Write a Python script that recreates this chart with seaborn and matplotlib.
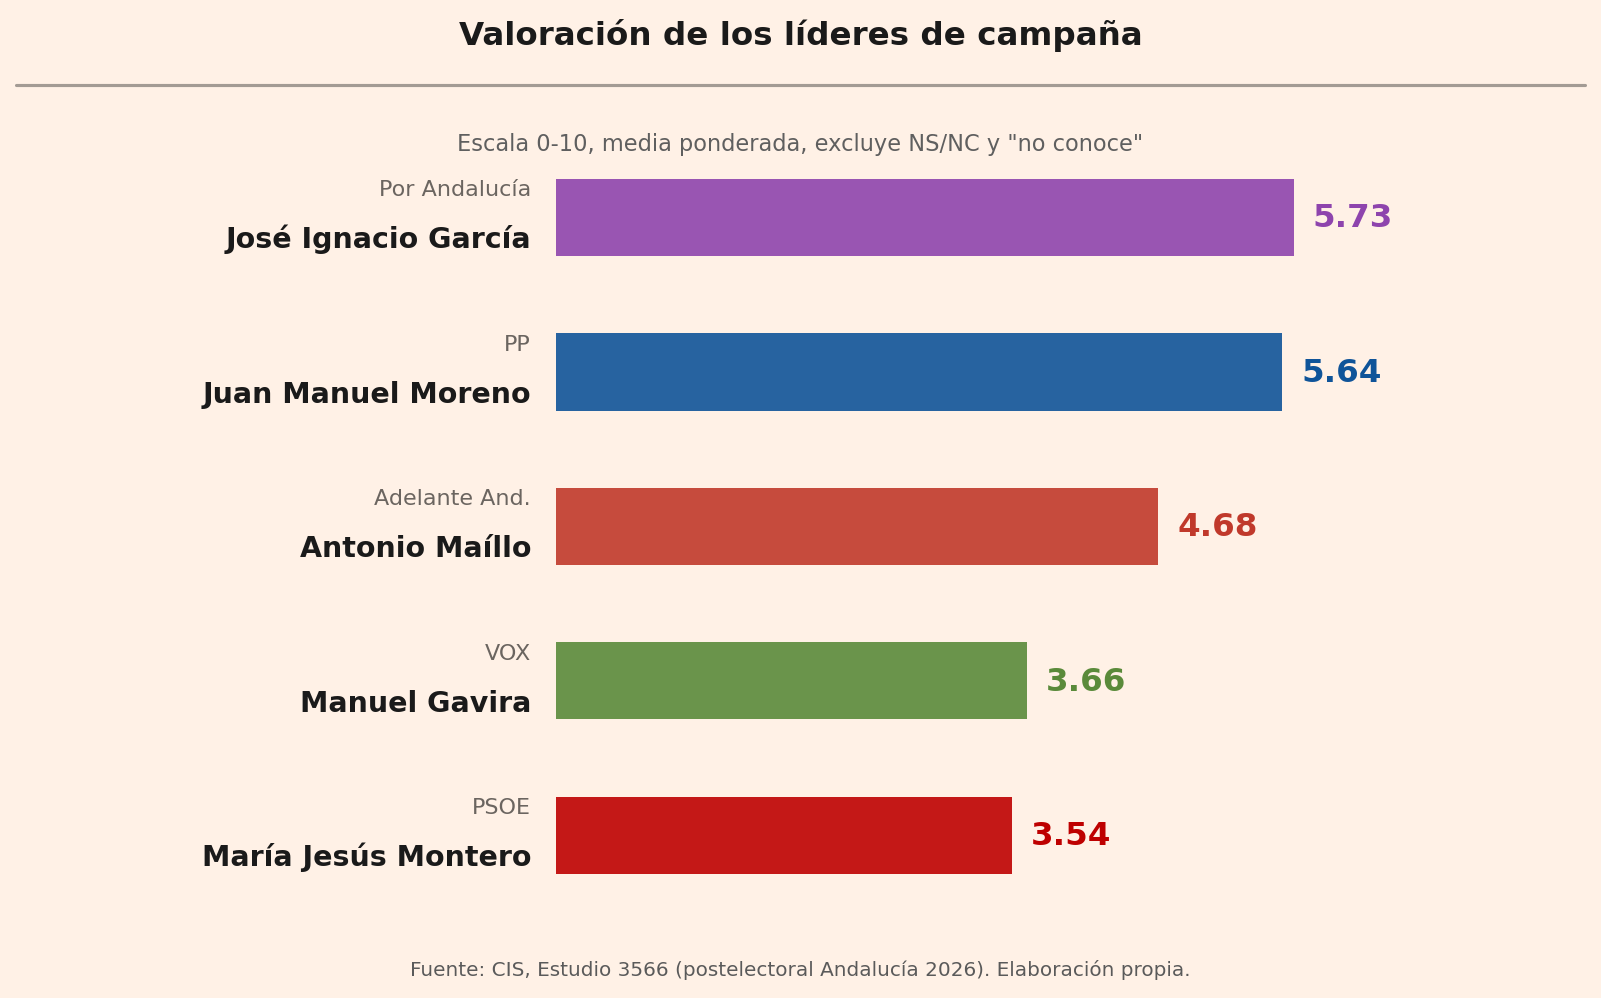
import numpy as np
import pandas as pd
import matplotlib
matplotlib.use('Agg')
from matplotlib import pyplot as plt
from matplotlib.lines import Line2D
import seaborn as sns

# data
leaders = ['José Ignacio García', 'Juan Manuel Moreno', 'Antonio Maíllo',
           'Manuel Gavira', 'María Jesús Montero']
parties = ['Por Andalucía', 'PP', 'Adelante And.', 'VOX', 'PSOE']
scores = [5.73, 5.64, 4.68, 3.66, 3.54]
colors = ['#8e44ad', '#0f5499', '#c0392b', '#5a8a3a', '#be0000']

BG = '#fff1e6'


def MakePlot():
    sns.set_style('white')
    plt.rcParams['font.family'] = ['DejaVu Sans']
    fig = plt.figure(figsize=(1601 / 150, 998 / 150), dpi=150, facecolor=BG)
    ax = fig.add_axes([0.3473, 0.0703, 0.5628, 0.8046])
    ax.set_facecolor(BG)

    pd_data = pd.DataFrame({'leader': leaders, 'party': parties, 'score': scores})
    pal = dict(zip(leaders, colors))
    sns.barplot(data=pd_data, x='score', y='leader', hue='leader', palette=pal,
                legend=False, width=0.5, alpha=0.9, saturation=1, linewidth=0, ax=ax)

    ax.set_xlim(0, 7)
    ax.set_ylim(4.6, -0.6)
    ax.set_xticks([])
    ax.set_yticks([])
    ax.set_xlabel('')
    ax.set_ylabel('')
    sns.despine(ax=ax, left=True, bottom=True)

    for i, row in pd_data.iterrows():
        ax.annotate(row['party'], xy=(0, i), xytext=(-12, 10.2), textcoords='offset points',
                    ha='right', va='baseline', fontsize=10.7, color='#6b6560')
        ax.annotate(row['leader'], xy=(0, i), xytext=(-12, -14.8), textcoords='offset points',
                    ha='right', va='baseline', fontsize=13.7, fontweight='bold', color='#1a1a1a')
        ax.annotate('%.2f' % row['score'], xy=(row['score'], i), xytext=(9.1, -4.7),
                    textcoords='offset points', ha='left', va='baseline',
                    fontsize=15.6, fontweight='bold', color=colors[i])

    fig.text(0.5, 0.9549, 'Valoración de los líderes de campaña', ha='center', va='baseline',
             fontsize=15.6, fontweight='bold', color='#1a1a1a')
    fig.add_artist(Line2D([0.01, 0.99], [0.9153, 0.9153], transform=fig.transFigure,
                          color='#a39b94', lw=1.5))
    fig.text(0.5, 0.849, 'Escala 0-10, media ponderada, excluye NS/NC y "no conoce"',
             ha='center', va='baseline', fontsize=10.8, color='#5f5f5f')
    fig.text(0.5, 0.0224, 'Fuente: CIS, Estudio 3566 (postelectoral Andalucía 2026). Elaboración propia.',
             ha='center', va='baseline', fontsize=9.6, color='#5a5a5a')

    fig.savefig('out.png', dpi=150, facecolor=BG)


if __name__ == '__main__':
    MakePlot()
